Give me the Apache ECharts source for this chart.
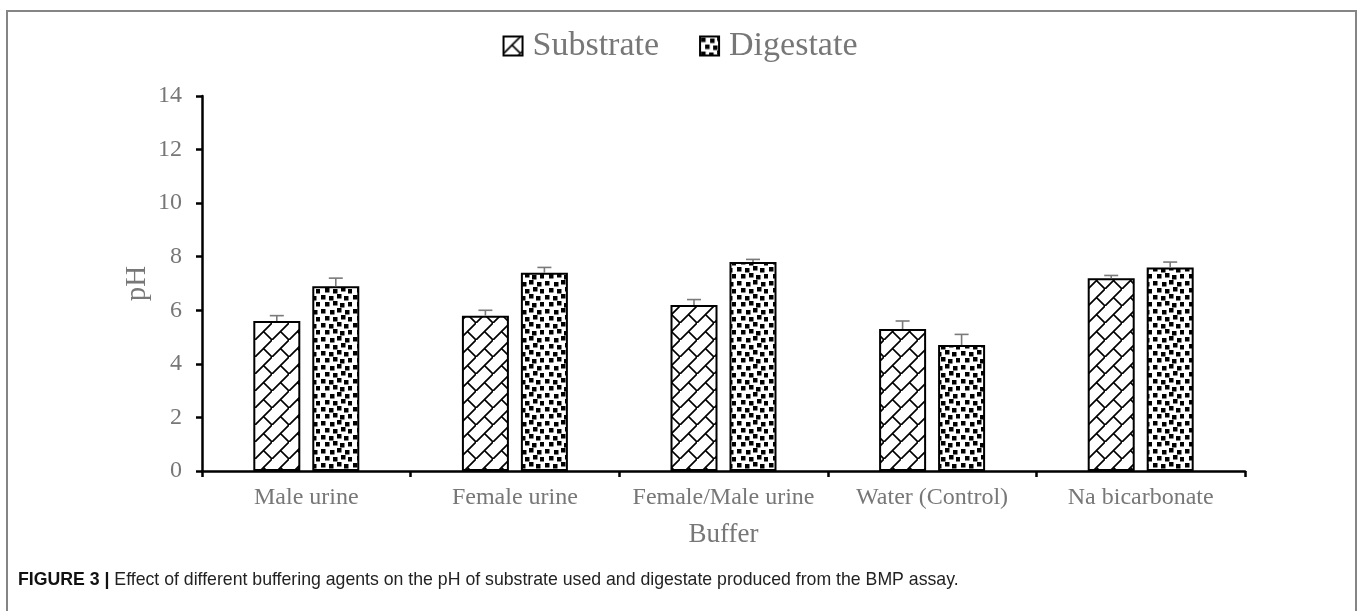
<!DOCTYPE html>
<html>
<head>
<meta charset="utf-8">
<script src="https://cdn.jsdelivr.net/npm/echarts@6/dist/echarts.min.js"></script>
<style>
html,body{margin:0;padding:0;background:#fff;}
#chart{width:1360px;height:611px;}
</style>
</head>
<body>
<div id="chart"></div>
<script>
// ---- data ----
const categories = ['Male urine', 'Female urine', 'Female/Male urine', 'Water (Control)', 'Na bicarbonate'];
const substrate = [5.6, 5.8, 6.2, 5.3, 7.2];
const substrateErr = [0.2, 0.2, 0.2, 0.3, 0.1];
const digestate = [6.9, 7.4, 7.8, 4.7, 7.6];
const digestateErr = [0.3, 0.2, 0.1, 0.4, 0.2];
const yTicks = [0, 2, 4, 6, 8, 10, 12, 14];
const seriesNames = ['Substrate', 'Digestate'];
const caption = 'Effect of different buffering agents on the pH of substrate used and digestate produced from the BMP assay.';

// ---- patterns ----
function brickPattern() {
  const s = 17;
  const c = document.createElement('canvas');
  c.width = s; c.height = s;
  const g = c.getContext('2d');
  g.fillStyle = '#fff'; g.fillRect(0, 0, s, s);
  g.strokeStyle = '#000'; g.lineWidth = 1.7; g.lineCap = 'square';
  g.beginPath();
  g.moveTo(-2, s + 2); g.lineTo(s + 2, -2);
  g.moveTo(s / 2, s / 2); g.lineTo(s, s);
  g.stroke();
  return c;
}
function confettiPattern() {
  const w = 32, h = 28;
  const c = document.createElement('canvas');
  c.width = w; c.height = h;
  const g = c.getContext('2d');
  g.fillStyle = '#fff'; g.fillRect(0, 0, w, h);
  g.fillStyle = '#000';
  const pts = [[1,1],[10,2],[17,0],[25,2],[5,8],[13,9],[21,7],[28,9],
               [1,15],[9,16],[17,14],[24,16],[5,22],[13,21],[20,23],[28,22]];
  pts.forEach(p => g.fillRect(p[0], p[1], 4.5, 4.5));
  return c;
}
const subColor = { image: brickPattern(), repeat: 'repeat' };
const digColor = { image: confettiPattern(), repeat: 'repeat' };

const BAR_W = 47, GAP = 12;
const textGray = '#777777';
const serif = '"Liberation Serif", "Times New Roman", serif';

function errSeries(vals, errs, sign) {
  return {
    type: 'custom',
    silent: true,
    z: 5,
    data: vals.map((v, i) => [i, v, v + errs[i]]),
    renderItem: function (params, api) {
      const off = sign * (BAR_W + GAP) / 2;
      const p0 = api.coord([api.value(0), api.value(1)]);
      const p1 = api.coord([api.value(0), api.value(2)]);
      const x = p0[0] + off;
      const cap = 7;
      const st = { stroke: '#7a7a7a', lineWidth: 1.6 };
      return {
        type: 'group',
        children: [
          { type: 'line', shape: { x1: x, y1: p0[1], x2: x, y2: p1[1] }, style: st },
          { type: 'line', shape: { x1: x - cap, y1: p1[1], x2: x + cap, y2: p1[1] }, style: st }
        ]
      };
    }
  };
}

const chart = echarts.init(document.getElementById('chart'), null, { renderer: 'canvas' });
chart.setOption({
  animation: false,
  backgroundColor: '#fff',
  textStyle: { fontFamily: serif },
  legend: {
    data: seriesNames,
    top: 24,
    left: 'center',
    icon: 'rect',
    itemWidth: 19,
    itemHeight: 19,
    itemGap: 40,
    textStyle: { fontFamily: serif, fontSize: 34, color: textGray, padding: [0, 0, 0, 5] },
    selectedMode: false
  },
  grid: { left: 202, right: 115, top: 96, bottom: 140, containLabel: false },
  xAxis: {
    type: 'category',
    data: categories,
    name: 'Buffer',
    nameLocation: 'middle',
    nameGap: 50,
    nameMoveOverlap: false,
    nameTextStyle: { fontFamily: serif, fontSize: 27, color: textGray },
    axisLine: { lineStyle: { color: '#000', width: 2.5 } },
    axisTick: { show: true, interval: 0, length: 6, lineStyle: { color: '#000', width: 2.5 } },
    axisLabel: { interval: 0, fontFamily: serif, fontSize: 24, color: textGray, margin: 15 },
    splitLine: { show: false }
  },
  yAxis: {
    type: 'value',
    min: 0, max: 14, interval: 2,
    name: 'pH',
    nameLocation: 'middle',
    nameGap: 50,
    nameMoveOverlap: false,
    nameTextStyle: { fontFamily: serif, fontSize: 29, color: textGray },
    axisLine: { show: true, lineStyle: { color: '#000', width: 2.5 } },
    axisTick: { show: true, length: 6, lineStyle: { color: '#000', width: 2.5 } },
    axisLabel: { fontFamily: serif, fontSize: 24, color: textGray, margin: 20,
      formatter: v => (yTicks.indexOf(v) >= 0 ? String(v) : '') },
    splitLine: { show: false }
  },
  series: [
    {
      name: seriesNames[0], type: 'bar', data: substrate,
      barWidth: BAR_W, barGap: (GAP / BAR_W * 100).toFixed(1) + '%',
      itemStyle: { color: subColor, borderColor: '#000', borderWidth: 2 }
    },
    {
      name: seriesNames[1], type: 'bar', data: digestate,
      barWidth: BAR_W,
      itemStyle: { color: digColor, borderColor: '#000', borderWidth: 2 }
    },
    errSeries(substrate, substrateErr, -1),
    errSeries(digestate, digestateErr, 1)
  ],
  graphic: [
    {
      type: 'rect', silent: true, z: 100,
      shape: { x: 7, y: 11, width: 1349, height: 640 },
      style: { fill: 'none', stroke: '#858585', lineWidth: 2 }
    },
    {
      type: 'text', left: 18, top: 571, z: 100,
      style: {
        text: '{b|FIGURE 3 |} ' + caption,
        rich: {
          b: { fontFamily: '"Liberation Sans", Arial, sans-serif', fontWeight: 'bold', fontSize: 17.7, fill: '#111' }
        },
        fontFamily: '"Liberation Sans", Arial, sans-serif',
        fontSize: 17.7,
        fill: '#222'
      }
    }
  ]
});
</script>
</body>
</html>
